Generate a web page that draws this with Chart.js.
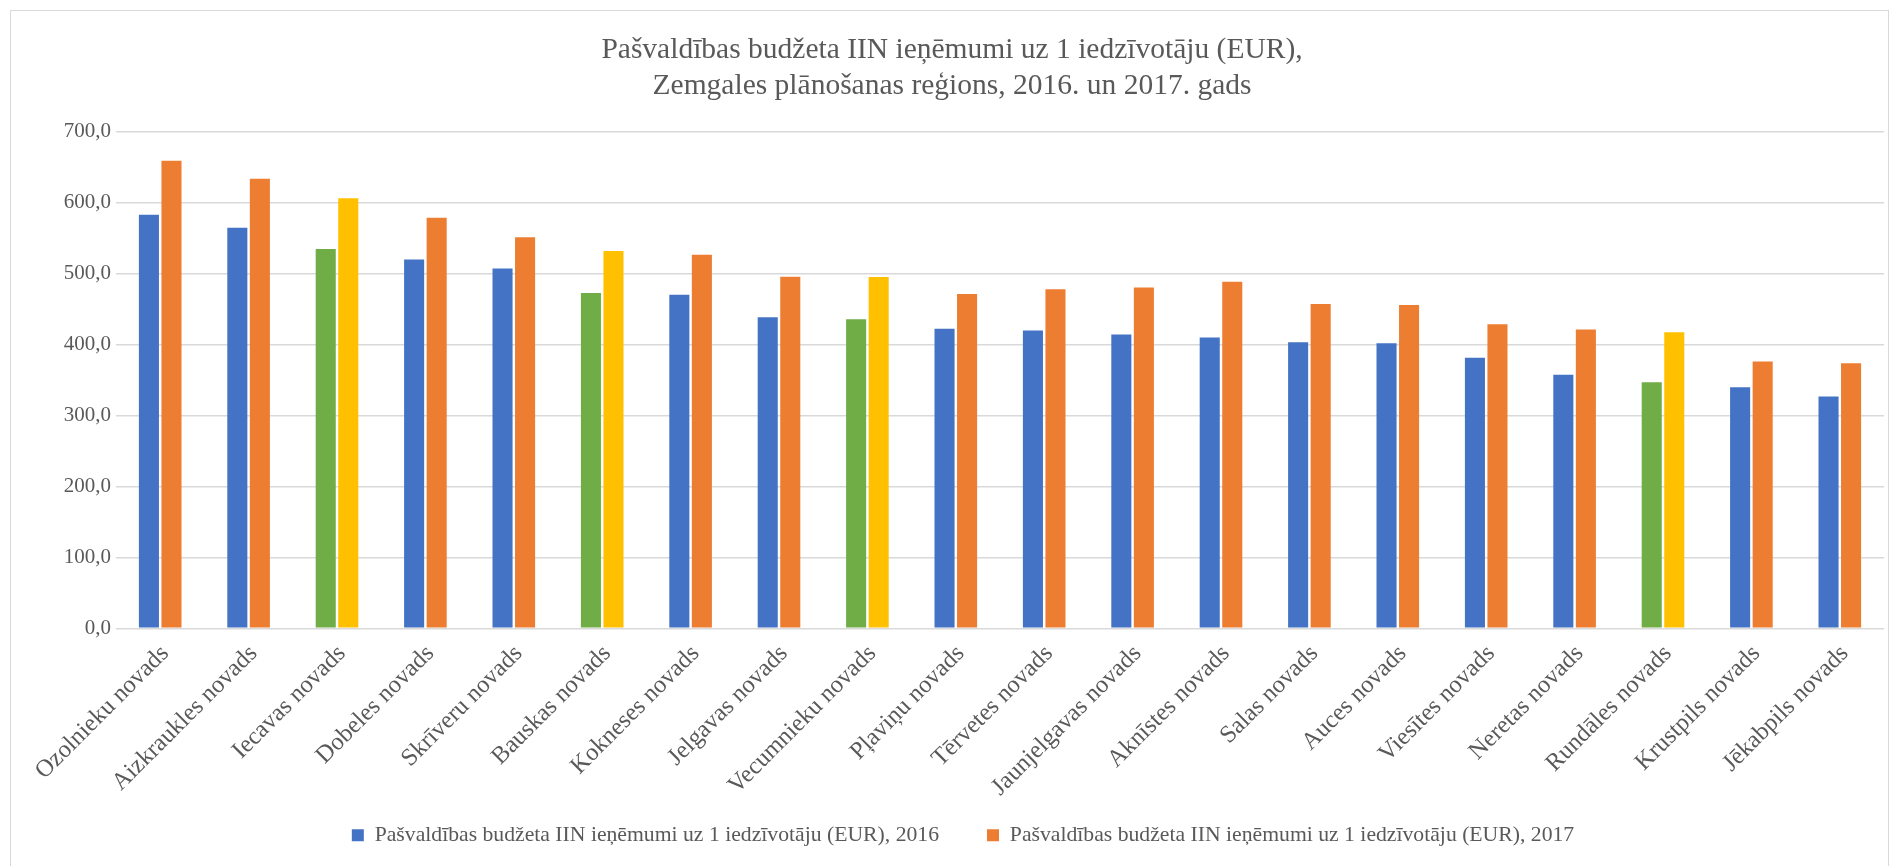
<!DOCTYPE html>
<html>
<head>
<meta charset="utf-8">
<script src="https://cdn.jsdelivr.net/npm/chart.js@4/dist/chart.umd.min.js"></script>
<style>
    html, body { margin: 0; padding: 0; background: #fff; }
    #frame {
        position: absolute; left: 10px; top: 10px; width: 1879px; height: 900px;
        border: 1px solid #d9d9d9; box-sizing: border-box;
    }
    #wrap { position: absolute; left: 0; top: 0; width: 1901px; height: 866px; }
</style>
</head>
<body>
<div id="frame"></div>
<div id="wrap"><canvas id="chart"></canvas></div>
<script>
const categories = [
    'Ozolnieku novads', 'Aizkraukles novads', 'Iecavas novads', 'Dobeles novads',
    'Skrīveru novads', 'Bauskas novads', 'Kokneses novads', 'Jelgavas novads',
    'Vecumnieku novads', 'Pļaviņu novads', 'Tērvetes novads', 'Jaunjelgavas novads',
    'Aknīstes novads', 'Salas novads', 'Auces novads', 'Viesītes novads',
    'Neretas novads', 'Rundāles novads', 'Krustpils novads', 'Jēkabpils novads'
];
const values2016 = [583.2, 565.1, 535.0, 520.2, 507.4, 473.0, 470.6, 438.7, 435.8, 422.5,
    420.1, 414.4, 410.1, 403.4, 402.0, 381.5, 357.6, 347.1, 340.0, 327.1];
const values2017 = [659.5, 634.2, 606.6, 578.9, 551.7, 532.2, 526.9, 495.9, 495.5, 471.6,
    478.3, 480.7, 488.8, 457.3, 455.9, 428.7, 421.5, 417.7, 376.2, 373.8];
// these municipalities are drawn in green / yellow
const highlighted = ['Iecavas novads', 'Bauskas novads', 'Vecumnieku novads', 'Rundāles novads'];
const seriesLabels = [
    'Pašvaldības budžeta IIN ieņēmumi uz 1 iedzīvotāju (EUR), 2016',
    'Pašvaldības budžeta IIN ieņēmumi uz 1 iedzīvotāju (EUR), 2017'
];
const chartTitle = [
    'Pašvaldības budžeta IIN ieņēmumi uz 1 iedzīvotāju (EUR),',
    'Zemgales plānošanas reģions, 2016. un 2017. gads'
];
const yTicks = [0, 100, 200, 300, 400, 500, 600, 700];

const FONT = "'Liberation Serif', 'Times New Roman', serif";
const TEXT = '#595959';
const GRID = '#d9d9d9';

function colorFor(base, alt) {
    return (ctx) => {
        if (ctx.dataIndex === undefined) return base;
        return highlighted.includes(categories[ctx.dataIndex]) ? alt : base;
    };
}

// legend in the original sits a bit right of the centre
const legendShift = {
    id: 'legendShift',
    afterLayout(chart) {
        chart.legend.left += 11;
        chart.legend.right += 11;
    }
};

const config = {
    type: 'bar',
    data: {
        labels: categories,
        datasets: [
            {
                label: seriesLabels[0],
                data: values2016,
                backgroundColor: colorFor('#4472c4', '#70ad47'),
                categoryPercentage: 0.51,
                barPercentage: 0.89
            },
            {
                label: seriesLabels[1],
                data: values2017,
                backgroundColor: colorFor('#ed7d31', '#ffc000'),
                categoryPercentage: 0.51,
                barPercentage: 0.89
            }
        ]
    },
    options: {
        responsive: true,
        maintainAspectRatio: false,
        animation: false,
        layout: {
            padding: { left: 20, right: 17, top: 12, bottom: 10 }
        },
        plugins: {
            title: {
                display: true,
                text: chartTitle,
                color: TEXT,
                font: { family: FONT, size: 29.5, weight: 'normal', lineHeight: 1.22 },
                padding: { top: 20, bottom: 28 }
            },
            legend: {
                position: 'bottom',
                labels: {
                    color: TEXT,
                    font: { family: FONT, size: 21.7 },
                    boxWidth: 12,
                    boxHeight: 12,
                    padding: 48,
                    generateLabels: (chart) => chart.data.datasets.map((ds, i) => ({
                        text: ds.label,
                        fillStyle: i === 0 ? '#4472c4' : '#ed7d31',
                        strokeStyle: 'transparent',
                        lineWidth: 0,
                        fontColor: TEXT,
                        datasetIndex: i
                    }))
                }
            },
            tooltip: { enabled: false }
        },
        scales: {
            x: {
                grid: { display: false },
                border: { display: false },
                ticks: {
                    color: TEXT,
                    font: { family: FONT, size: 24.5 },
                    minRotation: 45,
                    maxRotation: 45,
                    padding: 3,
                    labelOffset: 5,
                    autoSkip: false
                },
                afterFit: (scale) => {
                    scale.height = 148;
                    scale.paddingRight = 0;
                },
                // the rotated labels reach into the legend band, so don't clip them
                afterUpdate: (scale) => { scale._computeLabelArea = () => undefined; }
            },
            y: {
                min: 0,
                max: 700,
                grid: { color: GRID, lineWidth: 1.5, drawTicks: false },
                border: { display: false },
                afterBuildTicks: (scale) => { scale.ticks = yTicks.map(v => ({ value: v })); },
                ticks: {
                    color: TEXT,
                    font: { family: FONT, size: 21 },
                    padding: 5,
                    callback: (v) => v.toFixed(1).replace('.', ',')
                },
                afterFit: (scale) => { scale.width = 96; }
            }
        }
    },
    plugins: [legendShift]
};

new Chart(document.getElementById('chart'), config);
</script>
</body>
</html>
